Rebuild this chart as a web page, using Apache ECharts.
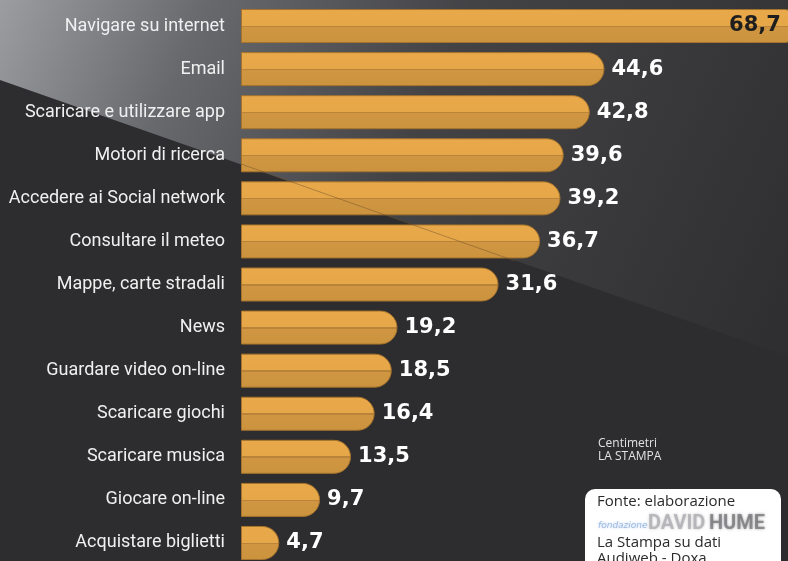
<!DOCTYPE html>
<html>
<head>
<meta charset="utf-8">
<script src="https://cdn.jsdelivr.net/npm/echarts@6/dist/echarts.min.js"></script>
<style>
html,body{margin:0;padding:0;background:#2d2c2e;}
#chart{width:788px;height:561px;}
</style>
</head>
<body>
<div id="chart"></div>
<script>
const categories = [
  'Navigare su internet',
  'Email',
  'Scaricare e utilizzare app',
  'Motori di ricerca',
  'Accedere ai Social network',
  'Consultare il meteo',
  'Mappe, carte stradali',
  'News',
  'Guardare video on-line',
  'Scaricare giochi',
  'Scaricare musica',
  'Giocare on-line',
  'Acquistare biglietti'
];
const values = [68.7, 44.6, 42.8, 39.6, 39.2, 36.7, 31.6, 19.2, 18.5, 16.4, 13.5, 9.7, 4.7];
const creditLines = ['Centimetri', 'LA STAMPA'];
const sourceLines = ['Fonte: elaborazione', 'La Stampa su dati', 'Audiweb - Doxa'];

const fmt = v => v.toFixed(1).replace('.', ',');

const chart = echarts.init(document.getElementById('chart'), null, {renderer: 'canvas'});

const barColor = new echarts.graphic.LinearGradient(0, 0, 0, 1, [
  {offset: 0, color: '#E9A94B'},
  {offset: 0.49, color: '#E6A748'},
  {offset: 0.49, color: '#B9843A'},
  {offset: 0.53, color: '#B9843A'},
  {offset: 0.53, color: '#D09641'},
  {offset: 1, color: '#CC933F'}
]);

const data = values.map((v, i) => {
  const d = {value: v};
  if (i === 0) {
    d.label = {position: 'insideRight', distance: 20, color: '#1e1e1e'};
  }
  return d;
});

chart.setOption({
  backgroundColor: '#2d2c2e',
  animation: false,
  grid: {left: 241, top: 4.5, height: 560, width: 570.5, containLabel: false, outerBoundsMode: 'none'},
  xAxis: {type: 'value', min: 0, max: 70, show: false},
  yAxis: {
    type: 'category',
    data: categories,
    inverse: true,
    axisLine: {show: false},
    axisTick: {show: false},
    axisLabel: {
      margin: 16,
      color: '#f0f0f0',
      fontSize: 18,
      fontFamily: "'Roboto', sans-serif"
    }
  },
  series: [{
    type: 'bar',
    data: data,
    barWidth: 34,
    z: 5,
    itemStyle: {
      color: barColor,
      borderColor: '#A6732C',
      borderWidth: 1,
      borderRadius: [0, 17, 17, 0]
    },
    label: {
      show: true,
      position: 'right',
      distance: 7,
      color: '#ffffff',
      fontSize: 21,
      fontWeight: 'bold',
      fontFamily: "'DejaVu Sans', sans-serif",
      formatter: p => fmt(p.value)
    }
  }],
  graphic: [
    {
      type: 'polygon',
      z: -10,
      silent: true,
      shape: {points: [[0, 0], [788, 0], [788, 356], [0, 80]]},
      style: {
        fill: new echarts.graphic.LinearGradient(0, 0, 1, 1, [
          {offset: 0, color: '#9c9da1'},
          {offset: 0.22, color: '#68696d'},
          {offset: 0.5, color: '#434346'},
          {offset: 1, color: '#2e2e30'}
        ])
      }
    },
    {
      type: 'line',
      z: 20,
      silent: true,
      shape: {x1: 241, y1: 164, x2: 515, y2: 261},
      style: {stroke: 'rgba(110,80,40,0.6)', lineWidth: 0.8}
    },
    {
      type: 'text',
      z: 50,
      left: 598,
      top: 437,
      style: {
        text: creditLines.join('\n'),
        fill: '#e2e2e2',
        font: "12px 'Open Sans', sans-serif",
        lineHeight: 13
      }
    },
    {
      type: 'rect',
      z: 50,
      shape: {x: 585, y: 489, width: 196, height: 90, r: 10},
      style: {fill: '#ffffff'}
    },
    {
      type: 'text',
      z: 51,
      left: 597,
      top: 494,
      style: {
        text: sourceLines[0],
        fill: '#2a2a2a',
        font: "15px 'Open Sans', sans-serif"
      }
    },
    {
      type: 'text',
      z: 51,
      left: 598,
      top: 521,
      style: {
        text: 'fondazione',
        fill: 'rgba(90,140,210,0.55)',
        font: "italic 9px 'DejaVu Sans', sans-serif",
        textShadowColor: 'rgba(90,140,210,0.8)',
        textShadowBlur: 3
      }
    },
    {
      type: 'text',
      z: 51,
      left: 648,
      top: 514,
      style: {
        text: 'DAVID',
        fill: 'rgba(160,160,165,0.6)',
        font: "bold 20px 'Roboto', sans-serif",
        textShadowColor: 'rgba(150,150,155,0.9)',
        textShadowBlur: 3
      }
    },
    {
      type: 'text',
      z: 51,
      left: 709,
      top: 514,
      style: {
        text: 'HUME',
        fill: 'rgba(95,95,100,0.6)',
        font: "bold 20px 'Roboto', sans-serif",
        textShadowColor: 'rgba(90,90,95,0.9)',
        textShadowBlur: 3
      }
    },
    {
      type: 'text',
      z: 51,
      left: 597,
      top: 535,
      style: {
        text: sourceLines[1] + '\n' + sourceLines[2],
        fill: '#2a2a2a',
        font: "15px 'Open Sans', sans-serif",
        lineHeight: 16
      }
    }
  ]
});
</script>
</body>
</html>
